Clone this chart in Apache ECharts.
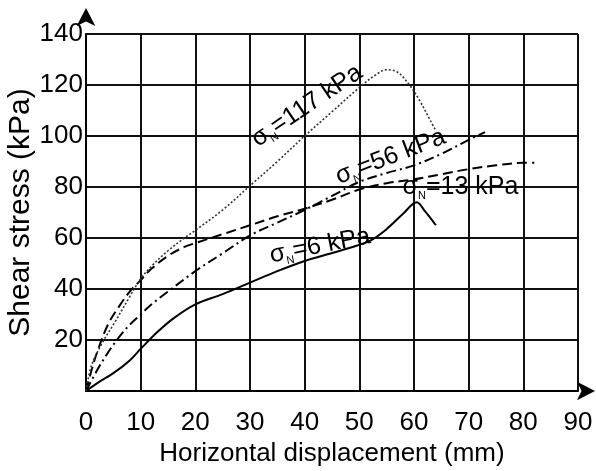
<!DOCTYPE html>
<html>
<head>
<meta charset="utf-8">
<script src="https://cdn.jsdelivr.net/npm/echarts@6/dist/echarts.min.js"></script>
<style>
  html, body { margin: 0; padding: 0; background: #fff; }
  #chart { width: 596px; height: 471px; }
</style>
</head>
<body>
<div id="chart"></div>
<script>
// Direct shear tests: shear stress (kPa) against horizontal displacement (mm)
// for four normal stresses.
const normalStresses = [6, 13, 56, 117];   // kPa

const sigma6 = [
  [0, 0], [2, 3], [5, 7], [8, 12], [10, 16.5], [13, 23], [16, 28.5], [20, 34],
  [25, 38], [30, 42.5], [35, 47], [40, 51], [44, 53.5], [48, 56], [52, 59],
  [55, 63.5], [58, 69.5], [60.5, 74], [62, 70.5], [64, 65]
];
const sigma13 = [
  [0, 0], [1, 8], [2, 15], [4, 26], [6, 33], [8, 39], [10, 43.5], [12, 48],
  [15, 53], [18, 56.5], [20, 58], [25, 61.5], [30, 65], [35, 68.5], [40, 71.5],
  [45, 75], [50, 79], [55, 81.5], [60, 83], [65, 85], [70, 87], [75, 88.5],
  [80, 89.5], [82, 89.5]
];
const sigma56 = [
  [0, 0], [2, 8], [4, 15], [6, 21], [8, 26], [10, 30], [12, 34], [15, 39],
  [20, 47], [25, 54], [30, 61], [35, 66], [40, 71], [45, 76.5], [50, 82],
  [55, 85.5], [60, 88.5], [65, 93], [70, 98.5], [73, 101.5]
];
const sigma117 = [
  [0, 0], [1, 10], [3, 19], [5, 26], [8, 37], [10, 44], [12, 49], [15, 55],
  [18, 60], [20, 63], [25, 71], [30, 80.5], [35, 90], [40, 100], [45, 109.5],
  [50, 119], [53, 124], [55, 126], [57, 125], [59, 120.5], [61, 114],
  [63, 106], [64, 102]
];

const tickFont = '"Liberation Sans", Arial, sans-serif';
const textFont = '"Liberation Sans", Arial, sans-serif';
const ink = '#000';

function curve(name, data, type, width, color) {
  return {
    name: name,
    type: 'line',
    data: data,
    showSymbol: false,
    smooth: 0.35,
    lineStyle: { color: color, width: width, type: type },
    z: 3
  };
}

// Curve captions: sigma with subscript N, then the value.
const richText = {
  s: { fontSize: 25, fontFamily: textFont, color: ink, lineHeight: 28, textBorderWidth: 0 },
  n: { fontSize: 11, fontFamily: textFont, color: ink, verticalAlign: 'bottom', lineHeight: 28, padding: [14, 0, 0, 0], textBorderWidth: 0 },
  t: { fontSize: 25, fontFamily: textFont, color: ink, lineHeight: 28, textBorderWidth: 0 }
};
function caption(value, x, y, rotate) {
  return {
    value: [x, y],
    label: { rotate: rotate, formatter: '{s|σ}{n|N}{t|=' + value + ' kPa}' }
  };
}

const chart = echarts.init(document.getElementById('chart'), null, { renderer: 'canvas' });
chart.setOption({
  animation: false,
  backgroundColor: '#fff',
  grid: { left: 86, right: 18, top: 34, bottom: 80, containLabel: false, outerBoundsMode: 'none' },
  xAxis: {
    type: 'value', min: 0, max: 90, interval: 10,
    name: 'Horizontal displacement (mm)',
    nameLocation: 'middle', nameGap: 50, nameMoveOverlap: false,
    nameTextStyle: { fontSize: 26, fontFamily: textFont, color: ink },
    axisLine: {
      show: true, lineStyle: { color: ink, width: 2 },
      symbol: ['none', 'arrow'], symbolSize: [14, 18], symbolOffset: [0, 17]
    },
    axisTick: { show: false },
    axisLabel: { fontSize: 26, fontFamily: tickFont, color: ink, margin: 19 },
    splitLine: { show: true, lineStyle: { color: '#111', width: 2 } }
  },
  yAxis: {
    type: 'value', min: 0, max: 140, interval: 20,
    name: 'Shear stress (kPa)',
    nameLocation: 'middle', nameGap: 50, nameMoveOverlap: false,
    nameTextStyle: { fontSize: 30, fontFamily: textFont, color: ink },
    axisLine: {
      show: true, lineStyle: { color: ink, width: 2 },
      symbol: ['none', 'arrow'], symbolSize: [14, 18], symbolOffset: [0, 26]
    },
    axisTick: { show: false },
    axisLabel: {
      fontSize: 26, fontFamily: tickFont, color: ink, margin: 3,
      formatter: function (v) { return v === 0 ? '' : String(v); }
    },
    splitLine: { show: true, lineStyle: { color: '#111', width: 2 } }
  },
  series: [
    curve('σN = 6 kPa', sigma6, 'solid', 2, ink),
    curve('σN = 13 kPa', sigma13, [10, 5], 2, ink),
    curve('σN = 56 kPa', sigma56, [10, 4, 2, 4], 2, ink),
    curve('σN = 117 kPa', sigma117, [2, 2], 1.6, '#333'),
    {
      type: 'scatter',
      symbolSize: 0,
      silent: true,
      z: 5,
      itemStyle: { color: ink, opacity: 1 },
      label: {
        show: true, position: 'inside', color: ink, opacity: 1,
        textBorderWidth: 0, textBorderColor: 'transparent', rich: richText
      },
      data: [
        caption(normalStresses[3], 40.4, 111.8, 34),
        caption(normalStresses[2], 55.7, 91.8, 21),
        caption(normalStresses[1], 68.5, 80, 0),
        caption(normalStresses[0], 42.8, 56.9, 11)
      ]
    }
  ]
});
</script>
</body>
</html>
